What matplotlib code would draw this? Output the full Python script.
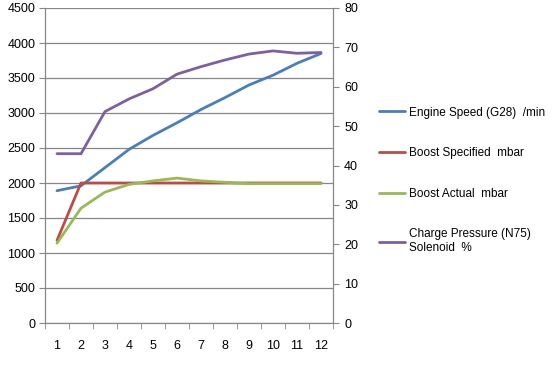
import matplotlib.pyplot as plt
import numpy as np

# values
samples = np.arange(1, 13)
engine_speed = [1890, 1960, 2220, 2480, 2680, 2860, 3050, 3220, 3400, 3540, 3710, 3850]
boost_specified = [1180, 2000, 2000, 2000, 2000, 2000, 2000, 2000, 2000, 2000, 2000, 2000]
boost_actual = [1140, 1640, 1870, 1980, 2030, 2070, 2030, 2010, 1990, 1990, 1990, 1990]
charge_pressure = [43, 43, 53.7, 56.9, 59.5, 63.2, 65.1, 66.8, 68.3, 69.1, 68.5, 68.7]

labels = ['Engine Speed (G28)  /min', 'Boost Specified  mbar', 'Boost Actual  mbar',
          'Charge Pressure (N75)\nSolenoid  %']
colors = ['#4A7EBB', '#BE4B48', '#98B954', '#7D60A0']

plt.rcParams['font.family'] = ['Liberation Sans', 'DejaVu Sans']
plt.rcParams['font.size'] = 9
grey = '#868686'

fig = plt.figure(figsize=(5.52, 3.65), dpi=100)
ax = fig.add_axes([45/552, 42/365, 288/552, 315/365])
ax2 = ax.twinx()

l1, = ax.plot(samples, engine_speed, color=colors[0], lw=2, solid_capstyle='round')
l2, = ax.plot(samples, boost_specified, color=colors[1], lw=2, solid_capstyle='round')
l3, = ax.plot(samples, boost_actual, color=colors[2], lw=2, solid_capstyle='round')
l4, = ax2.plot(samples, charge_pressure, color=colors[3], lw=2, solid_capstyle='round')

ax.set_xlim(0.5, 12.5)
ax.set_ylim(0, 4500)
ax.set_yticks(np.arange(0, 4501, 500))
ax2.set_ylim(0, 80)
ax2.set_yticks(np.arange(0, 81, 10))
ax.set_xticks(samples)
ax.set_xticks(np.arange(0.5, 12.6, 1), minor=True)
ax.tick_params(axis='x', which='major', length=0, pad=12)
ax.tick_params(axis='x', which='minor', length=4, color=grey)
ax.tick_params(axis='y', length=4, color=grey, pad=3)
ax2.tick_params(axis='y', length=4, color=grey, pad=4)
ax.yaxis.grid(True, color=grey, lw=0.9)
ax.set_axisbelow(True)

for a in (ax, ax2):
    a.spines['top'].set_visible(False)
    for s in ('left', 'right', 'bottom'):
        a.spines[s].set_color(grey)

fig.legend([l1, l2, l3, l4], labels, loc='upper left', bbox_to_anchor=(368/552, 1 - 96/365),
           frameon=False, labelspacing=2.42, handlelength=2.2, handletextpad=0.4, fontsize=8.5)

plt.savefig('out.png', dpi=100)
